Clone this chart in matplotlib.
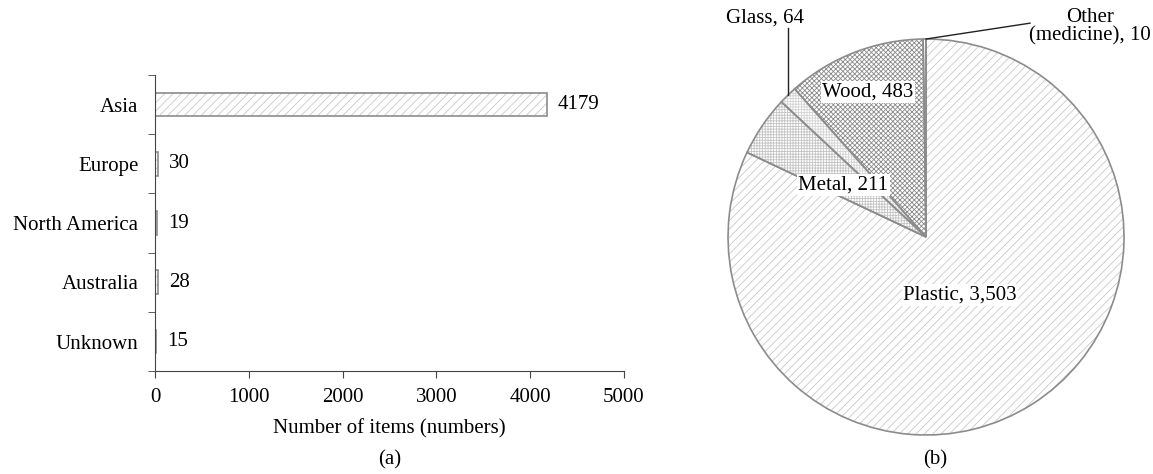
import matplotlib
matplotlib.use('Agg')
import matplotlib.pyplot as plt

plt.rcParams['font.family'] = ['Liberation Serif', 'DejaVu Serif']
plt.rcParams['hatch.linewidth'] = 0.6

regions = ['Asia', 'Europe', 'North America', 'Australia', 'Unknown']
region_items = [4179, 30, 19, 28, 15]

materials = ['Plastic', 'Metal', 'Glass', 'Wood', 'Other\n(medicine)']
material_items = [3503, 211, 64, 483, 10]
material_text = ['3,503', '211', '64', '483', '10']

EDGE = '#8c8c8c'
FS = 15

fig = plt.figure(figsize=(11.53, 4.74), dpi=100)

# (a) bar chart
ax = fig.add_axes([0.1344, 0.217, 0.4067, 0.625])
ypos = list(range(len(regions)))[::-1]
ax.barh(ypos, region_items, height=0.4, color='white', edgecolor='#c8c8c8',
        hatch='////', lw=0)
ax.barh(ypos, region_items, height=0.4, fill=False, edgecolor=EDGE, lw=1.2)
for y, v in zip(ypos, region_items):
    ax.annotate(str(v), (v, y), xytext=(8, 0), textcoords='offset points',
                va='center', ha='left', fontsize=FS)
ax.set_xlim(0, 5000)
ax.set_ylim(-0.5, len(regions) - 0.5)
ax.set_xticks([0, 1000, 2000, 3000, 4000, 5000])
ax.set_yticks(ypos)
ax.set_yticklabels(regions)
ax.set_yticks([i - 0.5 for i in range(len(regions) + 1)], minor=True)
ax.tick_params(axis='y', which='major', length=0, pad=12, labelsize=FS)
ax.tick_params(axis='y', which='minor', length=5, color='#444444')
ax.tick_params(axis='x', length=5, pad=7, color='#444444', labelsize=FS)
for s in ['top', 'right']:
    ax.spines[s].set_visible(False)
for s in ['left', 'bottom']:
    ax.spines[s].set_color('#444444')
ax.set_xlabel('Number of items (numbers)', fontsize=FS, labelpad=9)
fig.text(0.338, 0.02, '(a)', ha='center', fontsize=FS)

# (b) pie chart
px = fig.add_axes([0.6314, 0.0823, 0.3435, 0.8354])
hatches = ['////', '++++++', '++++++', 'xxxxxxx', '']
hcols = ['#c8c8c8', '#c4c4c4', '#d4d4d4', '#8a8a8a', '#d0d0d0']
wedges, _ = px.pie(material_items, startangle=90, counterclock=False,
                   colors=['white'] * 5)
for w, h, c in zip(wedges, hatches, hcols):
    w.set_hatch(h)
    w.set_edgecolor(c)
    w.set_linewidth(0)
px.pie(material_items, startangle=90, counterclock=False,
       wedgeprops=dict(fill=False, edgecolor=EDGE, lw=1.2))
px.set_xlim(-1, 1)
px.set_ylim(-1, 1)
px.set_aspect('equal')

box = dict(facecolor='white', edgecolor='none', pad=1)
px.text(0.172, -0.293, f'{materials[0]}, {material_text[0]}', ha='center',
        va='center', fontsize=FS, bbox=box)
px.text(-0.419, 0.263, f'{materials[1]}, {material_text[1]}', ha='center',
        va='center', fontsize=FS, bbox=box)
px.text(-0.293, 0.732, f'{materials[3]}, {material_text[3]}', ha='center',
        va='center', fontsize=FS, bbox=box)
px.text(-0.813, 1.106, f'{materials[2]}, {material_text[2]}', ha='center',
        va='center', fontsize=FS)
px.plot([-0.697, -0.697], [0.717, 1.056], color='#222222', lw=1, clip_on=False)
px.text(0.83, 1.06, f'{materials[4]}, {material_text[4]}', ha='center',
        va='center', fontsize=FS, linespacing=0.95)
px.plot([0.0, 0.525], [1.0, 1.08], color='#222222', lw=1, clip_on=False)
fig.text(0.811, 0.02, '(b)', ha='center', fontsize=FS)

fig.savefig('out.png', dpi=100)
